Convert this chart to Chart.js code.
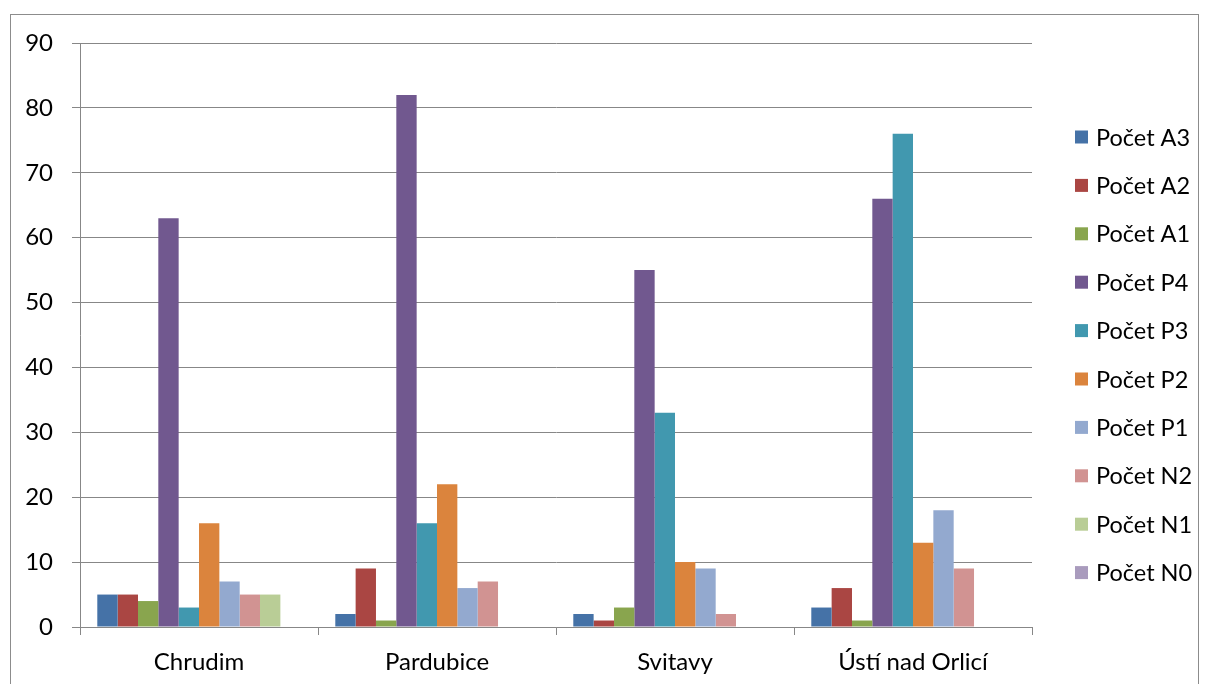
<!DOCTYPE html>
<html>
<head>
<meta charset="utf-8">
<script src="https://cdn.jsdelivr.net/npm/chart.js@4/dist/chart.umd.min.js"></script>
<style>
  html, body { margin: 0; padding: 0; background: #fff; }
  #wrap { position: relative; width: 1209px; height: 684px; }
</style>
</head>
<body>
<div id="wrap"><canvas id="c" width="1209" height="684"></canvas></div>
<script>
// Districts along the category axis
const categories = ['Chrudim', 'Pardubice', 'Svitavy', 'Ústí nad Orlicí'];

// Series names and counts per district
const seriesNames = ['Počet A3', 'Počet A2', 'Počet A1', 'Počet P4', 'Počet P3',
                     'Počet P2', 'Počet P1', 'Počet N2', 'Počet N1', 'Počet N0'];
const pocetA3 = [5, 2, 2, 3];
const pocetA2 = [5, 9, 1, 6];
const pocetA1 = [4, 1, 3, 1];
const pocetP4 = [63, 82, 55, 66];
const pocetP3 = [3, 16, 33, 76];
const pocetP2 = [16, 22, 10, 13];
const pocetP1 = [7, 6, 9, 18];
const pocetN2 = [5, 7, 2, 9];
const pocetN1 = [5, 0, 0, 0];
const pocetN0 = [0, 0, 0, 0];

// Value axis ticks
const yTicks = [0, 10, 20, 30, 40, 50, 60, 70, 80, 90];

const seriesValues = [pocetA3, pocetA2, pocetA1, pocetP4, pocetP3,
                      pocetP2, pocetP1, pocetN2, pocetN1, pocetN0];
const seriesColors = ['#4572A7', '#AA4643', '#89A54E', '#71588F', '#4198AF',
                      '#DB843D', '#93A9CF', '#D19392', '#B9CD96', '#A99BBD'];

const FONT = 'Lato, "Open Sans", sans-serif';
const GRID = '#878787';

// Outer frame and the legend column on the right
const framePlugin = {
  id: 'frameAndLegend',
  afterDraw(chart) {
    const ctx = chart.ctx;
    ctx.save();
    ctx.strokeStyle = '#8c8c8c';
    ctx.lineWidth = 1;
    ctx.strokeRect(10.5, 14.5, 1188, 700);

    const x0 = 1075, yFirst = 137, step = 48.4, box = 13;
    ctx.font = '23.5px ' + FONT;
    ctx.textBaseline = 'middle';
    ctx.textAlign = 'left';
    chart.data.datasets.forEach((ds, i) => {
      const y = yFirst + i * step;
      ctx.fillStyle = ds.backgroundColor;
      ctx.fillRect(x0, y - box / 2, box, box);
      ctx.fillStyle = '#000';
      ctx.fillText(ds.label, x0 + 21, y + 1);
    });
    ctx.restore();
  }
};

new Chart(document.getElementById('c'), {
  type: 'bar',
  data: {
    labels: categories,
    datasets: seriesNames.map((name, i) => ({
      label: name,
      data: seriesValues[i],
      backgroundColor: seriesColors[i],
      borderWidth: 0,
      categoryPercentage: 10 / 11.7,
      barPercentage: 1.0
    }))
  },
  options: {
    responsive: false,
    animation: false,
    devicePixelRatio: 1,
    layout: { padding: { left: 10, top: 43, right: 177, bottom: 0 } },
    plugins: {
      legend: { display: false },
      tooltip: { enabled: false }
    },
    scales: {
      x: {
        offset: true,
        grid: {
          offset: true,
          drawOnChartArea: false,
          drawTicks: true,
          tickLength: 8,
          color: GRID
        },
        border: { color: GRID, width: 1 },
        ticks: {
          color: '#000',
          font: { family: FONT, size: 24 },
          padding: 13,
          maxRotation: 0
        },
        afterFit(scale) { scale.height = 57; }
      },
      y: {
        min: 0,
        max: 90,
        afterBuildTicks(scale) { scale.ticks = yTicks.map(v => ({ value: v })); },
        grid: {
          color: GRID,
          drawTicks: true,
          tickLength: 8
        },
        border: { color: GRID, width: 1 },
        ticks: {
          color: '#000',
          font: { family: FONT, size: 24 },
          padding: 19
        },
        afterFit(scale) { scale.width = 70; }
      }
    }
  },
  plugins: [framePlugin]
});
</script>
</body>
</html>
